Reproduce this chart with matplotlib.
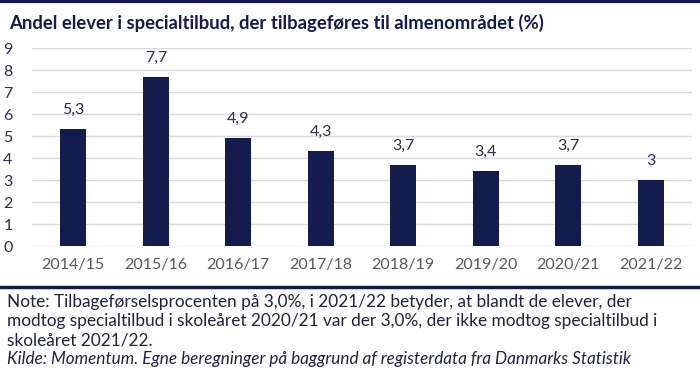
import matplotlib
matplotlib.use("Agg")
import matplotlib.pyplot as plt
from matplotlib.lines import Line2D

categories = ["2014/15", "2015/16", "2016/17", "2017/18", "2018/19", "2019/20", "2020/21", "2021/22"]
values = [5.3, 7.7, 4.9, 4.3, 3.7, 3.4, 3.7, 3.0]
labels = ["5,3", "7,7", "4,9", "4,3", "3,7", "3,4", "3,7", "3"]
yticks = list(range(0, 10))

navy = "#141b4d"
plt.rcParams['font.family'] = ['Lato', 'DejaVu Sans']

fig = plt.figure(figsize=(7, 3.92), dpi=100)
ax = fig.add_axes([32/700, 146/392, 660/700, 198/392])

x = range(len(categories))
ax.bar(x, values, width=0.32, color=navy, zorder=3)
for xi, v, lab in zip(x, values, labels):
    ax.text(xi, v + 0.55, lab, ha="center", va="bottom", fontsize=11.5, color="#2b2f4f")

ax.set_xlim(-0.5, len(categories) - 0.5)
ax.set_ylim(0, 9)
ax.set_yticks(yticks)
ax.set_xticks(list(x))
ax.set_xticklabels(categories)
ax.grid(axis="y", color="#d9d9d9", linewidth=1, zorder=0)
for s in ax.spines.values():
    s.set_visible(False)
ax.tick_params(axis="both", length=0, labelsize=11.5, colors="#595959")
ax.tick_params(axis="y", pad=14, colors="#2b2f4f")
ax.tick_params(axis="x", pad=9)

fig.text(9/700, 1 - 23/392, "Andel elever i specialtilbud, der tilbageføres til almenområdet (%)",
         fontsize=13.3, fontweight="bold", color=navy, va="center", ha="left")

fig.add_artist(Line2D([0, 1], [1 - 1/392, 1 - 1/392], color=navy, linewidth=3, transform=fig.transFigure))
fig.add_artist(Line2D([0, 1], [1 - 287/392, 1 - 287/392], color=navy, linewidth=2.5, transform=fig.transFigure))

note_lines = ["Note: Tilbageførselsprocenten på 3,0%, i 2021/22 betyder, at blandt de elever, der",
              "modtog specialtilbud i skoleåret 2020/21 var der 3,0%, der ikke modtog specialtilbud i",
              "skoleåret 2021/22."]
for i, line in enumerate(note_lines):
    fig.text(7/700, 1 - (302 + 19 * i)/392, line, fontsize=12.4, color="#1f2340", va="center", ha="left")
fig.text(7/700, 1 - 359/392, "Kilde: Momentum. Egne beregninger på baggrund af registerdata fra Danmarks Statistik",
         fontsize=12.3, color="#1f2340", va="center", ha="left", style="italic")

fig.savefig("out.png", dpi=100)
